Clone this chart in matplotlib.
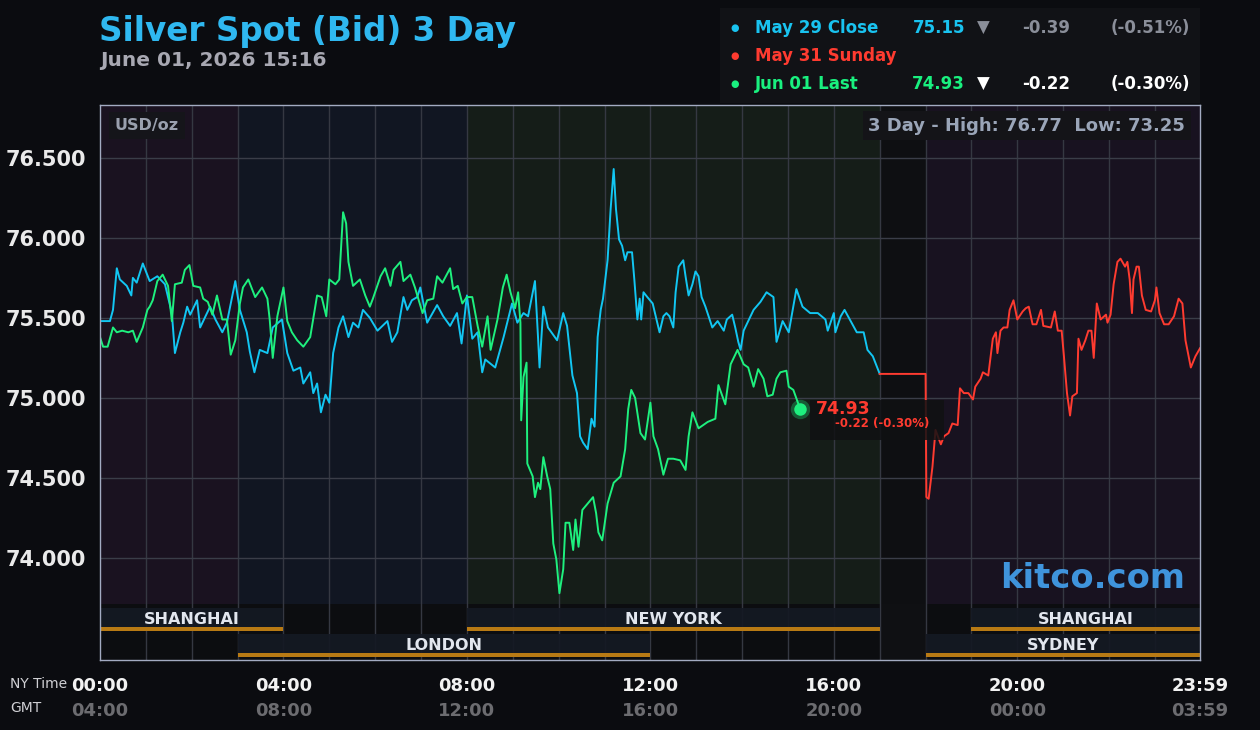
import matplotlib
matplotlib.use("Agg")
import matplotlib.pyplot as plt
from matplotlib.patches import Rectangle
import matplotlib.transforms as mtransforms

# ---------------------------------------------------------------
# data (minutes after NY midnight, price USD/oz)
# ---------------------------------------------------------------
BLUE_T = [0, 13, 17, 22, 26, 35, 41, 43, 48, 56, 65, 75, 85, 94, 98, 105, 109, 114, 118,
          127, 131, 140, 144, 151, 160, 166, 177, 183, 192, 196, 202, 209, 219, 226, 238,
          245, 253, 262, 266, 275, 279, 284, 289, 295, 300, 305, 312, 318, 325, 331, 338,
          344, 353, 363, 376, 382, 389, 397, 402, 408, 415, 419, 428, 441, 449, 458, 467,
          473, 480, 487, 494, 500, 504, 517, 528, 539, 546, 554, 560, 569, 573, 575, 580,
          586, 598, 606, 611, 618, 624, 628, 632, 638, 643, 647, 651, 655, 658, 664, 668,
          672, 675, 679, 683, 687, 690, 696, 699, 703, 706, 708, 711, 716, 723, 727, 732,
          737, 741, 745, 750, 753, 757, 763, 766, 770, 775, 779, 783, 787, 792, 801, 808,
          816, 820, 827, 831, 835, 838, 842, 848, 855, 864, 872, 881, 885, 893, 901, 907,
          911, 919, 929, 939, 949, 952, 960, 962, 969, 974, 982, 990, 999, 1004, 1011, 1020]
BLUE_V = [75.48, 75.48, 75.55, 75.81, 75.74, 75.70, 75.64, 75.75, 75.72, 75.84, 75.73, 75.76,
          75.71, 75.53, 75.28, 75.41, 75.47, 75.57, 75.52, 75.61, 75.44, 75.53, 75.57, 75.49,
          75.41, 75.47, 75.73, 75.55, 75.41, 75.29, 75.16, 75.30, 75.28, 75.44, 75.49, 75.28,
          75.17, 75.19, 75.09, 75.16, 75.03, 75.09, 74.91, 75.02, 74.97, 75.28, 75.44, 75.51,
          75.38, 75.47, 75.44, 75.55, 75.50, 75.42, 75.48, 75.35, 75.41, 75.63, 75.55, 75.61,
          75.63, 75.69, 75.47, 75.58, 75.51, 75.45, 75.53, 75.34, 75.64, 75.37, 75.41, 75.16,
          75.24, 75.19, 75.38, 75.59, 75.47, 75.53, 75.51, 75.73, 75.38, 75.19, 75.57, 75.44,
          75.36, 75.53, 75.45, 75.14, 75.03, 74.76, 74.72, 74.68, 74.87, 74.82, 75.38, 75.55,
          75.62, 75.86, 76.18, 76.43, 76.18, 75.99, 75.95, 75.86, 75.91, 75.91, 75.74, 75.49,
          75.62, 75.49, 75.66, 75.63, 75.59, 75.51, 75.41, 75.51, 75.53, 75.51, 75.44, 75.66,
          75.82, 75.86, 75.76, 75.64, 75.71, 75.79, 75.76, 75.63, 75.57, 75.44, 75.48, 75.42,
          75.49, 75.52, 75.44, 75.35, 75.30, 75.42, 75.48, 75.55, 75.60, 75.66, 75.63, 75.35,
          75.48, 75.41, 75.57, 75.68, 75.57, 75.53, 75.53, 75.49, 75.42, 75.53, 75.41, 75.51,
          75.55, 75.48, 75.41, 75.41, 75.30, 75.26, 75.15]

RED_T = [1020, 1080, 1081, 1084, 1089, 1093, 1100, 1104, 1110, 1115, 1122, 1125, 1130, 1136,
         1142, 1145, 1152, 1155, 1162, 1168, 1172, 1174, 1178, 1182, 1187, 1190, 1195, 1200,
         1207, 1211, 1215, 1220, 1225, 1231, 1234, 1244, 1249, 1253, 1258, 1261, 1265, 1269,
         1272, 1278, 1280, 1284, 1289, 1293, 1297, 1300, 1304, 1309, 1316, 1318, 1322, 1326,
         1331, 1335, 1341, 1344, 1347, 1350, 1352, 1356, 1359, 1363, 1368, 1375, 1380, 1382,
         1386, 1392, 1398, 1405, 1411, 1416, 1420, 1427, 1433, 1439]
RED_V = [75.15, 75.15, 74.38, 74.37, 74.57, 74.80, 74.71, 74.76, 74.78, 74.84, 74.83, 75.06,
         75.03, 75.03, 74.99, 75.07, 75.12, 75.16, 75.14, 75.37, 75.41, 75.28, 75.42, 75.44,
         75.44, 75.55, 75.61, 75.49, 75.54, 75.56, 75.57, 75.46, 75.46, 75.55, 75.45, 75.44,
         75.54, 75.42, 75.42, 75.26, 75.03, 74.89, 75.01, 75.03, 75.37, 75.30, 75.36, 75.42,
         75.42, 75.25, 75.59, 75.49, 75.52, 75.47, 75.52, 75.71, 75.85, 75.87, 75.82, 75.85,
         75.74, 75.53, 75.74, 75.82, 75.82, 75.64, 75.55, 75.54, 75.61, 75.69, 75.53, 75.46,
         75.46, 75.51, 75.62, 75.59, 75.36, 75.19, 75.26, 75.31]

GREEN_T = [0, 4, 10, 17, 22, 29, 37, 43, 48, 56, 62, 65, 69, 75, 82, 89, 94, 98, 107, 111,
           117, 122, 131, 135, 141, 147, 153, 160, 166, 171, 177, 183, 187, 194, 203, 212,
           219, 222, 226, 232, 240, 245, 251, 258, 266, 275, 284, 290, 296, 300, 308, 313,
           318, 322, 325, 331, 340, 347, 353, 357, 367, 373, 380, 384, 393, 397, 406, 412,
           422, 428, 436, 441, 448, 458, 462, 468, 474, 480, 487, 494, 500, 507, 511, 520,
           527, 532, 537, 543, 547, 550, 551, 554, 558, 559, 566, 569, 573, 576, 580, 585,
           589, 593, 597, 601, 606, 609, 614, 619, 622, 626, 631, 638, 645, 649, 652, 657,
           664, 672, 681, 687, 691, 695, 700, 707, 713, 720, 724, 730, 737, 743, 750, 759,
           766, 770, 775, 783, 795, 805, 809, 818, 825, 834, 842, 848, 855, 861, 868, 873,
           880, 885, 890, 898, 901, 907, 916]
GREEN_V = [75.38, 75.32, 75.32, 75.44, 75.41, 75.42, 75.41, 75.42, 75.35, 75.44, 75.55, 75.57,
           75.61, 75.73, 75.77, 75.70, 75.48, 75.71, 75.72, 75.80, 75.83, 75.70, 75.69, 75.62,
           75.60, 75.52, 75.64, 75.49, 75.49, 75.27, 75.36, 75.59, 75.69, 75.74, 75.63, 75.69,
           75.62, 75.49, 75.25, 75.51, 75.69, 75.48, 75.41, 75.36, 75.32, 75.38, 75.64, 75.63,
           75.51, 75.74, 75.71, 75.74, 76.16, 76.09, 75.85, 75.70, 75.74, 75.64, 75.57, 75.62,
           75.76, 75.81, 75.70, 75.80, 75.85, 75.73, 75.77, 75.69, 75.53, 75.61, 75.62, 75.76,
           75.72, 75.81, 75.68, 75.70, 75.59, 75.63, 75.63, 75.45, 75.32, 75.51, 75.30, 75.49,
           75.69, 75.77, 75.66, 75.56, 75.66, 75.47, 74.86, 75.13, 75.22, 74.59, 74.51, 74.38,
           74.47, 74.43, 74.63, 74.51, 74.43, 74.09, 73.99, 73.78, 73.93, 74.22, 74.22, 74.05,
           74.24, 74.07, 74.30, 74.34, 74.38, 74.28, 74.16, 74.11, 74.34, 74.47, 74.51, 74.68,
           74.93, 75.05, 75.00, 74.78, 74.74, 74.97, 74.76, 74.68, 74.52, 74.62, 74.62, 74.61,
           74.55, 74.76, 74.91, 74.81, 74.85, 74.87, 75.08, 74.96, 75.21, 75.30, 75.21, 75.19,
           75.07, 75.18, 75.12, 75.01, 75.02, 75.12, 75.16, 75.17, 75.07, 75.05, 74.93]

Y_TICKS = [74.0, 74.5, 75.0, 75.5, 76.0, 76.5]
X_TICKS = [0, 240, 480, 720, 960, 1200, 1439]
NY_LABELS = ["00:00", "04:00", "08:00", "12:00", "16:00", "20:00", "23:59"]
GMT_LABELS = ["04:00", "08:00", "12:00", "16:00", "20:00", "00:00", "03:59"]

# background zones (start, end, colour)
ZONES = [(0, 180, "#1a1220"), (180, 480, "#111622"), (480, 1020, "#151d18"),
         (1020, 1080, "#0e0f12"), (1080, 1440, "#181220")]
# market sessions: (name, start, end, row)
SESSIONS = [("SHANGHAI", 0, 240, 0), ("NEW YORK", 480, 1020, 0), ("SHANGHAI", 1140, 1440, 0),
            ("LONDON", 180, 720, 1), ("SYDNEY", 1080, 1440, 1)]

LEGEND_ROWS = [("May 29 Close", "#19c3f0", "75.15", "#8a8e99", "-0.39", "(-0.51%)"),
               ("May 31 Sunday", "#ff3b30", None, None, None, None),
               ("Jun 01 Last", "#19f07f", "74.93", "#ffffff", "-0.22", "(-0.30%)")]

BLUE = "#12c6f2"
GREEN = "#1ef07e"
RED = "#ff3b30"
BG = "#0b0c10"

W, H = 1260, 730


def fx(x):
    return x / W


def fy(y):
    return 1 - y / H


fig = plt.figure(figsize=(12.6, 7.3), dpi=100, facecolor=BG)
ax = fig.add_axes([fx(100), fy(660), fx(1200) - fx(100), fy(105) - fy(660)])
ax.set_facecolor("#0c0d10")

Y_TOP = 76.83
Y_BOT = 73.3625
PRICE_FLOOR = 73.7125
ax.set_xlim(0, 1439)
ax.set_ylim(Y_BOT, Y_TOP)

for x0, x1, c in ZONES:
    ax.add_patch(Rectangle((x0, PRICE_FLOOR), x1 - x0, Y_TOP - PRICE_FLOOR,
                           facecolor=c, edgecolor="none", zorder=0))
# weekend gap also lighter down in the session strip
ax.add_patch(Rectangle((1020, Y_BOT), 60, PRICE_FLOOR - Y_BOT,
                       facecolor="#0f1013", edgecolor="none", zorder=0.5))

# grid
for h in range(1, 24):
    ax.axvline(h * 60, color="#353842", lw=1, zorder=1)
for v in Y_TICKS:
    ax.hlines(v, 0, 1440, color="#3a3d48", lw=1, zorder=1)

# market session bars
trans = mtransforms.blended_transform_factory(ax.transData, ax.transAxes)
row_top = [0.0937, 0.0468]
bar_h = 0.0414
for name, s, e, r in SESSIONS:
    y0 = row_top[r] - bar_h
    ax.add_patch(Rectangle((s, y0), e - s, bar_h, transform=trans,
                           facecolor="#141923", edgecolor="none", zorder=1.5, alpha=0.92))
    ax.add_patch(Rectangle((s, y0), e - s, 0.0072, transform=trans,
                           facecolor="#b87a14", edgecolor="none", zorder=2))
    ax.text((s + e) / 2, y0 + 0.007, name, transform=trans, ha="center", va="bottom",
            color="#e2e6ee", fontsize=11.5, fontweight="bold", zorder=3)

# price lines
ax.plot(BLUE_T, BLUE_V, color=BLUE, lw=1.4, zorder=4)
ax.plot(RED_T, RED_V, color=RED, lw=1.4, zorder=4)
ax.plot(GREEN_T, GREEN_V, color=GREEN, lw=1.4, zorder=5)

# last price marker
ax.plot(GREEN_T[-1], GREEN_V[-1], "o", ms=14, color=GREEN, alpha=0.3, mew=0, zorder=6)
ax.plot(GREEN_T[-1], GREEN_V[-1], "o", ms=9, color=GREEN, mew=0, zorder=7)
ax.add_patch(Rectangle((GREEN_T[-1] + 13, 74.74), 175, 0.25, facecolor="#101113",
                       edgecolor="none", alpha=0.85, zorder=6))
ax.text(GREEN_T[-1] + 20, GREEN_V[-1], f"{GREEN_V[-1]:.2f}", color=RED, fontsize=12.5,
        fontweight="bold", va="center", ha="left", zorder=8)
ax.text(GREEN_T[-1] + 46, GREEN_V[-1] - 0.09, "-0.22 (-0.30%)", color=RED, fontsize=8.5,
        fontweight="bold", va="center", ha="left", zorder=8)

# axes styling
ax.set_yticks(Y_TICKS)
ax.set_yticklabels([f"{v:.3f}" for v in Y_TICKS])
ax.tick_params(axis="y", length=0, pad=10, labelsize=15, labelcolor="#eaeaea")
for lab in ax.get_yticklabels():
    lab.set_fontweight("bold")
ax.set_xticks([])
for sp in ax.spines.values():
    sp.set_color("#a3abc2")
    sp.set_linewidth(1)
    sp.set_zorder(10)

for t, ny, gmt in zip(X_TICKS, NY_LABELS, GMT_LABELS):
    ax.text(t, -0.046, ny, transform=trans, ha="center", va="center", color="#f2f2f2",
            fontsize=13, fontweight="bold")
    ax.text(t, -0.092, gmt, transform=trans, ha="center", va="center", color="#6c6c70",
            fontsize=13, fontweight="bold")
fig.text(fx(10), fy(684), "NY Time", color="#d0d0d4", fontsize=10, va="center")
fig.text(fx(10), fy(708), "GMT", color="#d0d0d4", fontsize=10, va="center")

# boxes inside the plot
ax.text(0.0135, 0.963, "USD/oz", transform=ax.transAxes, ha="left", va="center",
        color="#9aa0ae", fontsize=11.5, fontweight="bold", zorder=9,
        bbox=dict(boxstyle="square,pad=0.35", facecolor="#15151a", edgecolor="none"))
ax.text(0.9865, 0.963, "3 Day - High: 76.77  Low: 73.25", transform=ax.transAxes,
        ha="right", va="center", color="#9aa5b8", fontsize=13, fontweight="bold", zorder=9,
        bbox=dict(boxstyle="square,pad=0.3", facecolor="#141418", edgecolor="none"))
ax.text(0.9865, 0.147, "kitco.com", transform=ax.transAxes, ha="right", va="center",
        color="#3f94dc", fontsize=24.3, fontweight="bold", zorder=9)

# title
fig.text(fx(99), fy(31), "Silver Spot (Bid) 3 Day", color="#2fb8f0", fontsize=23.5,
         fontweight="bold", va="center", ha="left")
fig.text(fx(100), fy(60), "June 01, 2026 15:16", color="#a8a8b2", fontsize=14.5,
         fontweight="bold", va="center", ha="left")

# legend panel
fig.patches.append(Rectangle((fx(720), fy(103)), fx(480), fy(8) - fy(103),
                             transform=fig.transFigure, facecolor="#111216",
                             edgecolor="none", zorder=0))
for i, (name, col, price, arrow_col, chg, pct) in enumerate(LEGEND_ROWS):
    y = fy(28 + i * 28)
    fig.text(fx(735), y, "●", color=col, fontsize=7, va="center", ha="center")
    fig.text(fx(755), y, name, color=col, fontsize=12, fontweight="bold", va="center")
    if price is not None:
        fig.text(fx(965), y, price, color=col, fontsize=12, fontweight="bold",
                 va="center", ha="right")
        fig.text(fx(983), y, "▼", color=arrow_col, fontsize=12, va="center", ha="center")
        fig.text(fx(1070), y, chg, color=arrow_col, fontsize=12, fontweight="bold",
                 va="center", ha="right")
        fig.text(fx(1190), y, pct, color=arrow_col, fontsize=12, fontweight="bold",
                 va="center", ha="right")

fig.savefig("out.png", dpi=100, facecolor=BG)
